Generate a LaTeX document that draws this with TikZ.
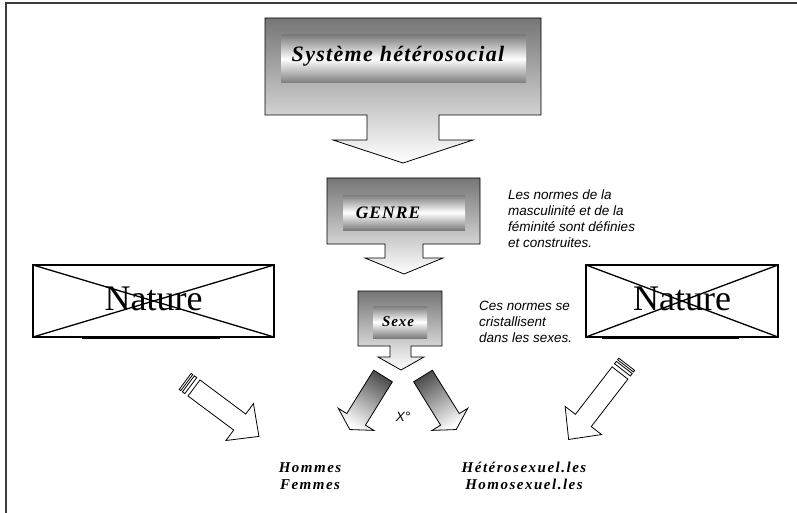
\documentclass[tikz,border=0pt]{standalone}
\usepackage{fontspec}
\setmainfont{Liberation Serif}
\newfontfamily\tbi[LetterSpace=6]{Liberation Serif}
\newfontfamily\tbiw[LetterSpace=10]{Liberation Serif}
\newfontfamily\asans{Liberation Sans}
\definecolor{cgray}{RGB}{118,118,118}
\definecolor{bgray}{RGB}{125,125,125}
\definecolor{agray}{RGB}{80,80,80}
\definecolor{framec}{RGB}{60,60,60}
\tikzset{
  callout/.style={draw=black, line width=0.8pt, top color=cgray, bottom color=white},
  barshade/.style={draw=none, top color=bgray, bottom color=bgray, middle color=white},
  gradarrow/.style={draw=black, line width=0.8pt, top color=agray, bottom color=white},
  whitearrow/.style={draw=black, line width=0.8pt, fill=white},
  crossbox/.style={draw=black, line width=1.5pt},
  titletxt/.style={inner sep=0pt, font=\tbi\bfseries\itshape},
  notetxt/.style={inner sep=0pt, anchor=base west, font=\asans\itshape\fontsize{13.5}{15}\selectfont},
  naturetxt/.style={inner sep=0pt, anchor=base, font=\fontsize{36}{36}\selectfont},
  restxt/.style={inner sep=0pt, anchor=base, font=\tbiw\bfseries\itshape\fontsize{15}{17}\selectfont}
}
\begin{document}
\begin{tikzpicture}[x=1pt,y=-1pt]
\useasboundingbox (0,0) rectangle (797,513);
% frame
\draw[framec, line width=2pt] (5.5,513) -- (5.5,3) -- (797,3);

% top callout
\path[callout] (265,18) -- (541,18) -- (541,115) -- (439,115) -- (439,140) -- (473,140)
  -- (403,163) -- (333,140) -- (367,140) -- (367,115) -- (265,115) -- cycle;
\path[barshade] (281,35) rectangle (526,83);
\node[titletxt, anchor=base, font=\tbi\bfseries\itshape\fontsize{22}{24}\selectfont] (sys) at (398,62) {Système hétérosocial};

% GENRE callout
\path[callout] (327,178) -- (480,178) -- (480,244) -- (423,244) -- (423,258) -- (443,258)
  -- (404,274) -- (365,258) -- (385,258) -- (385,244) -- (327,244) -- cycle;
\path[barshade] (343,195) rectangle (465,230);
\node[titletxt, anchor=base, font=\tbi\bfseries\itshape\fontsize{17.5}{19}\selectfont] (genre) at (388,218) {GENRE};

% Sexe callout
\path[callout] (358,291) -- (442,291) -- (442,346) -- (411,346) -- (411,357) -- (424,357)
  -- (401,370) -- (378,357) -- (390,357) -- (390,346) -- (358,346) -- cycle;
\path[barshade] (373,306) rectangle (427,338);
\node[titletxt, anchor=base, font=\tbi\bfseries\itshape\fontsize{15}{17}\selectfont] (sexe) at (398,326) {Sexe};

% notes
\node[notetxt] (n1) at (508,199) {Les normes de la};
\node[notetxt] (n2) at (508,215) {masculinité et de la};
\node[notetxt] (n3) at (508,231) {féminité sont définies};
\node[notetxt] (n4) at (508,247) {et construites.};
\node[notetxt] (c1) at (479,310) {Ces normes se};
\node[notetxt] (c2) at (479,326) {cristallisent};
\node[notetxt] (c3) at (479,342) {dans les sexes.};

% Nature boxes
\draw[line width=1.3pt] (33,265) -- (274,337) (33,337) -- (274,265);
\draw[crossbox] (33,265) rectangle (274,337);
\draw[line width=1.3pt] (82,338.4) -- (220,338.4);
\node[naturetxt] (natl) at (153.5,310) {Nature};

\draw[line width=1.3pt] (586,265) -- (778,337) (586,337) -- (778,265);
\draw[crossbox] (586,265) rectangle (778,337);
\draw[line width=1.3pt] (602,338.4) -- (739,338.4);
\node[naturetxt] (natr) at (682,310.5) {Nature};

% gradient arrows below Sexe
\path[gradarrow, shading angle=-32] (373.65,370.2) -- (392.35,381.8) -- (365.45,425.15) -- (373.95,430.4)
  -- (349.8,429.55) -- (338.25,408.3) -- (346.75,413.55) -- cycle;
\path[gradarrow, shading angle=32] (432.35,370.2) -- (413.65,381.8) -- (440.55,425.15) -- (432.05,430.4)
  -- (456.2,429.55) -- (467.75,408.3) -- (459.25,413.55) -- cycle;
\node[inner sep=0pt, font=\asans\itshape\fontsize{13.5}{15}\selectfont] (x) at (403,417) {X°};

% striped white arrows
\begin{scope}[shift={(194,388)}, rotate=-36.7]
  \draw[whitearrow] (0,-10) -- (57,-10) -- (57,-23) -- (81,0) -- (57,23) -- (57,10) -- (0,10) -- cycle;
  \draw[whitearrow] (-4,-10) rectangle (-7,10);
  \draw[whitearrow] (-9,-10) rectangle (-11,10);
\end{scope}
\begin{scope}[shift={(620,373)}, rotate=-127.7]
  \draw[whitearrow] (0,-10) -- (60,-10) -- (60,-23) -- (84,0) -- (60,23) -- (60,10) -- (0,10) -- cycle;
  \draw[whitearrow] (-4,-10) rectangle (-7,10);
  \draw[whitearrow] (-9,-10) rectangle (-11,10);
\end{scope}

% results
\node[restxt] (hom) at (310,472) {Hommes};
\node[restxt] (fem) at (310,489) {Femmes};
\node[restxt] (het) at (524,472) {Hétérosexuel.les};
\node[restxt] (homo) at (524,489) {Homosexuel.les};
\end{tikzpicture}
\end{document}
